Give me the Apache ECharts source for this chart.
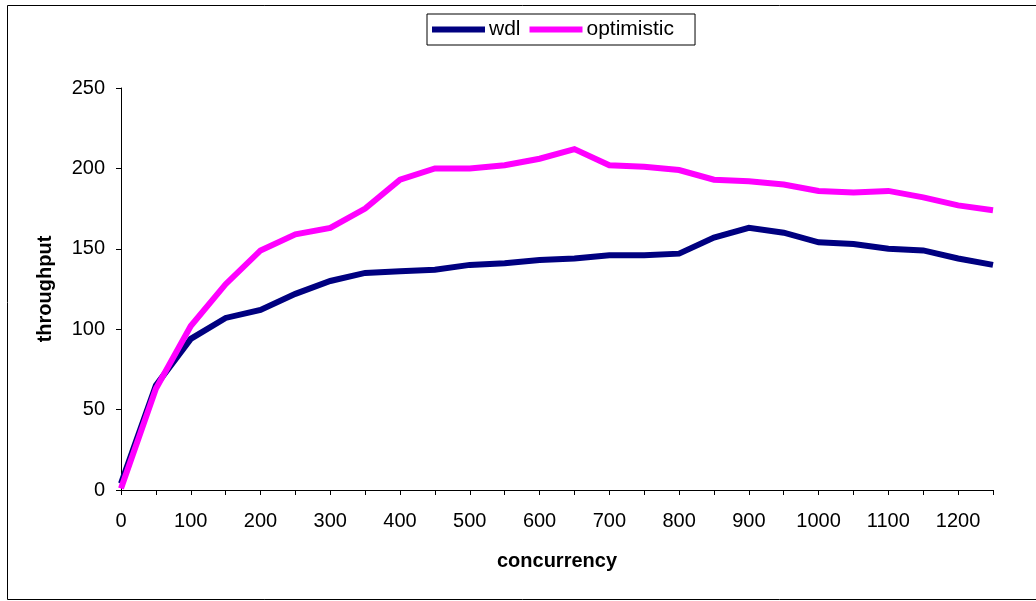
<!DOCTYPE html>
<html>
<head>
<meta charset="utf-8">
<script src="https://cdn.jsdelivr.net/npm/echarts@6/dist/echarts.min.js"></script>
<style>
  html, body { margin: 0; padding: 0; background: #fff; }
  #chart { width: 1036px; height: 601px; }
</style>
</head>
<body>
<div id="chart"></div>
<script>
// Concurrency levels (x axis categories)
const concurrency = [0, 50, 100, 150, 200, 250, 300, 350, 400, 450, 500, 550, 600,
  650, 700, 750, 800, 850, 900, 950, 1000, 1050, 1100, 1150, 1200, 1250];

// Throughput measured for each scheme
const wdl = [4, 65, 94, 107, 112, 122, 130, 135, 136, 137, 140, 141, 143,
  144, 146, 146, 147, 157, 163, 160, 154, 153, 150, 149, 144, 140];
const optimistic = [1, 63, 102, 128, 149, 159, 163, 175, 193, 200, 200, 202, 206,
  212, 202, 201, 199, 193, 192, 190, 186, 185, 186, 182, 177, 174];

const seriesNames = ['wdl', 'optimistic'];
const seriesColors = ['#000080', '#ff00ff'];

const FONT = '"Liberation Sans", Arial, sans-serif';

const chart = echarts.init(document.getElementById('chart'), null, { renderer: 'canvas' });

chart.setOption({
  animation: false,
  backgroundColor: '#ffffff',
  textStyle: { fontFamily: FONT, color: '#000' },
  graphic: [{
    type: 'rect',
    shape: { x: 7.5, y: 5.5, width: 1040, height: 594 },
    style: { fill: 'none', stroke: '#000', lineWidth: 1 },
    silent: true
  }],
  legend: {
    data: seriesNames,
    left: 427,
    top: 14,
    padding: [5, 21, 5, 5],
    itemGap: 9,
    itemWidth: 53,
    itemHeight: 6,
    icon: 'rect',
    borderColor: '#000',
    borderWidth: 1,
    textStyle: { fontFamily: FONT, fontSize: 21, color: '#000', padding: [0, 0, 0, -1] }
  },
  grid: { left: 121, right: 43, top: 88, bottom: 111, containLabel: false },
  xAxis: {
    type: 'category',
    data: concurrency,
    boundaryGap: false,
    name: 'concurrency',
    nameLocation: 'middle',
    nameGap: 61,
    nameTextStyle: { fontFamily: FONT, fontSize: 20, fontWeight: 'bold', color: '#000' },
    axisLine: { lineStyle: { color: '#000', width: 1 } },
    axisTick: { show: true, inside: false, length: 5, interval: 0, alignWithLabel: true, lineStyle: { color: '#000' } },
    axisLabel: { interval: 1, margin: 21, fontFamily: FONT, fontSize: 20, color: '#000' },
    splitLine: { show: false }
  },
  yAxis: {
    type: 'value',
    min: 0,
    max: 250,
    interval: 50,
    name: 'throughput',
    nameLocation: 'middle',
    nameGap: 66,
    nameRotate: 90,
    nameTextStyle: { fontFamily: FONT, fontSize: 20, fontWeight: 'bold', color: '#000' },
    axisLine: { show: true, lineStyle: { color: '#000', width: 1 } },
    axisTick: { show: true, inside: false, length: 5, lineStyle: { color: '#000' } },
    axisLabel: { margin: 16, fontFamily: FONT, fontSize: 20, color: '#000' },
    splitLine: { show: false }
  },
  series: [
    {
      name: seriesNames[0],
      type: 'line',
      data: wdl,
      showSymbol: false,
      symbol: 'none',
      color: seriesColors[0],
      lineStyle: { color: seriesColors[0], width: 6, join: 'miter' }
    },
    {
      name: seriesNames[1],
      type: 'line',
      data: optimistic,
      showSymbol: false,
      symbol: 'none',
      color: seriesColors[1],
      lineStyle: { color: seriesColors[1], width: 6, join: 'miter' }
    }
  ]
});
</script>
</body>
</html>
